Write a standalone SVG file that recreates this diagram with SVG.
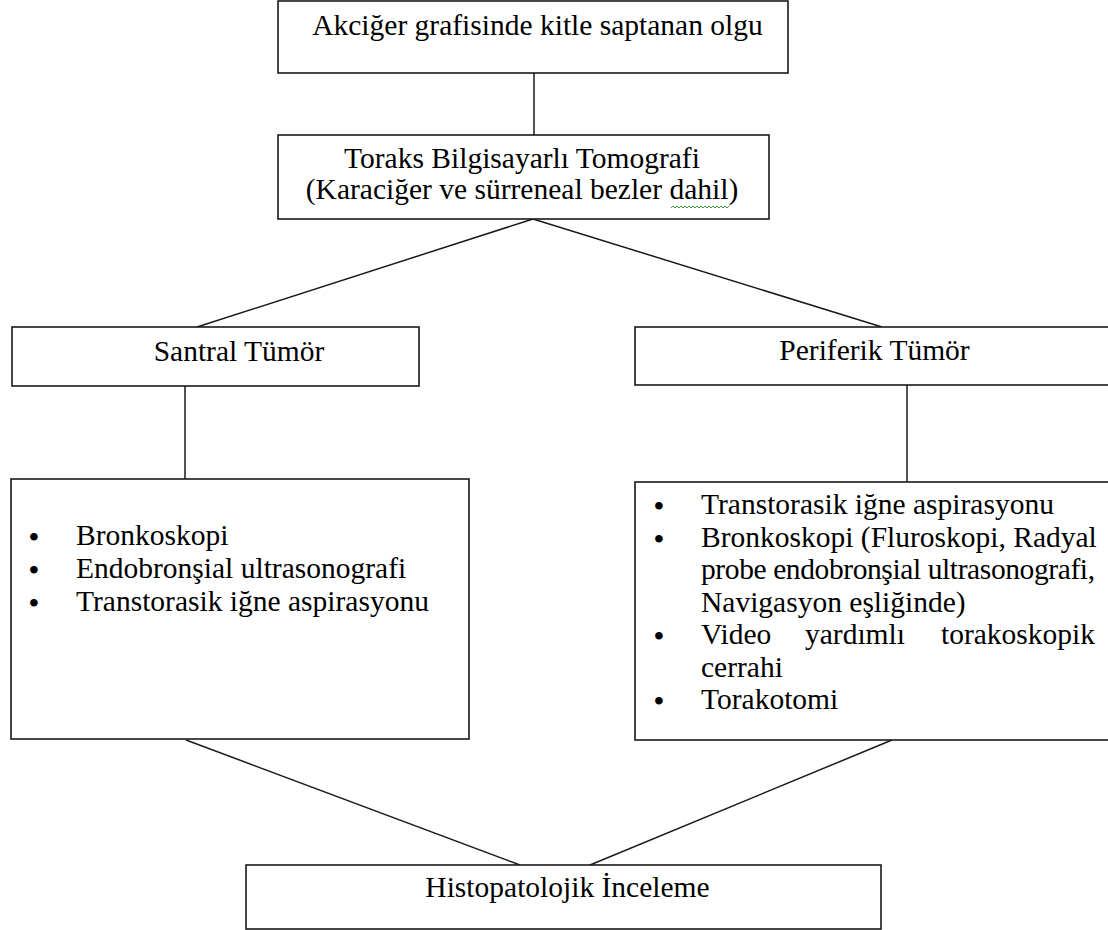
<svg xmlns="http://www.w3.org/2000/svg" width="1108" height="930" viewBox="0 0 1108 930">
<style>
.box{fill:#fff;stroke:#1a1a1a;stroke-width:1.6}
.t{font-family:"Liberation Serif","Times New Roman",serif;font-size:29.5px;fill:#000}
.c{text-anchor:middle}
.e{text-anchor:end}
.b{text-anchor:middle;font-size:28px;font-weight:bold}
.ln{stroke:#1a1a1a;stroke-width:1.5;fill:none}
</style>
<rect width="1108" height="930" fill="#fff"/>
<g id="connectors">
<line class="ln" x1="534" y1="73" x2="534" y2="135"/>
<line class="ln" x1="533" y1="219" x2="197" y2="327"/>
<line class="ln" x1="533" y1="219" x2="882" y2="327"/>
<line class="ln" x1="185" y1="386" x2="185" y2="479"/>
<line class="ln" x1="907" y1="385" x2="907" y2="482"/>
<line class="ln" x1="186" y1="740" x2="520" y2="865"/>
<line class="ln" x1="892" y1="740" x2="590" y2="865"/>
</g>
<g id="node-akciger">
<rect class="box" x="278" y="1" width="510" height="72"/>
<text class="t c" x="537.5" y="35">Akciğer grafisinde kitle saptanan olgu</text>
</g>
<g id="node-toraks">
<rect class="box" x="278" y="135" width="491" height="84"/>
<text class="t c" x="522" y="168">Toraks Bilgisayarlı Tomografi</text>
<text class="t c" x="522" y="199">(Karaciğer ve sürreneal bezler dahil)</text>
<path d="M671 208 l2 -2 l2 2 l2 -2 l2 2 l2 -2 l2 2 l2 -2 l2 2 l2 -2 l2 2 l2 -2 l2 2 l2 -2 l2 2 l2 -2 l2 2 l2 -2 l2 2 l2 -2 l2 2 l2 -2 l2 2 l2 -2 l2 2 l2 -2 l2 2 l2 -2 l2 2 l2 -2" fill="none" stroke="#3a9a3a" stroke-width="1"/>
</g>
<g id="node-santral">
<rect class="box" x="12" y="327" width="407" height="59"/>
<text class="t c" x="239" y="361">Santral Tümör</text>
</g>
<g id="node-periferik">
<rect class="box" x="635" y="327" width="480" height="58"/>
<text class="t c" x="874.5" y="360">Periferik Tümör</text>
</g>
<g id="node-santral-list">
<rect class="box" x="11" y="479" width="458" height="260"/>
<text class="t b" x="34" y="546">•</text>
<text class="t" x="76" y="545">Bronkoskopi</text>
<text class="t b" x="34" y="579">•</text>
<text class="t" x="76" y="578">Endobronşial ultrasonografi</text>
<text class="t b" x="34" y="612">•</text>
<text class="t" x="76" y="611">Transtorasik iğne aspirasyonu</text>
</g>
<g id="node-periferik-list">
<rect class="box" x="635" y="482" width="480" height="258"/>
<text class="t b" x="659" y="515">•</text>
<text class="t" x="701" y="514">Transtorasik iğne aspirasyonu</text>
<text class="t b" x="659" y="547.5">•</text>
<text class="t" x="701" y="546.5">Bronkoskopi (Fluroskopi, Radyal</text>
<text class="t" x="701" y="579" textLength="394" lengthAdjust="spacing">probe endobronşial ultrasonografi,</text>
<text class="t" x="701" y="611.5">Navigasyon eşliğinde)</text>
<text class="t b" x="659" y="645">•</text>
<text class="t" x="701" y="644">Video</text>
<text class="t" x="805" y="644">yardımlı</text>
<text class="t e" x="1095" y="644">torakoskopik</text>
<text class="t" x="701" y="676.5">cerrahi</text>
<text class="t b" x="659" y="710">•</text>
<text class="t" x="701" y="709">Torakotomi</text>
</g>
<g id="node-histopatolojik">
<rect class="box" x="246" y="865" width="635" height="64"/>
<text class="t c" x="567.5" y="897">Histopatolojik İnceleme</text>
</g>
</svg>
